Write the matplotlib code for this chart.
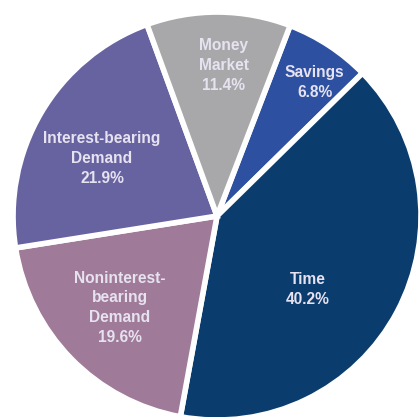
import numpy as np
import matplotlib
matplotlib.use("Agg")
import matplotlib.pyplot as plt

# Deposit mix, clockwise from the top
categories = ["Savings", "Time", "Noninterest-\nbearing\nDemand",
              "Interest-bearing\nDemand", "Money\nMarket"]
shares = [6.8, 40.2, 19.6, 21.9, 11.4]
colors = ["#2d51a0", "#0a3c6e", "#a07a99", "#6663a0", "#a8a8aa"]

# label placement inside each wedge: radial fraction and clockwise nudge (deg)
label_radius = [0.81, 0.57, 0.655, 0.63, 0.74]
label_nudge = [3, 11, 1, -4, 2]

fig = plt.figure(figsize=(4.2, 4.17), dpi=100)
ax = fig.add_axes([0, 0, 1, 1])

wedges, _ = ax.pie(shares, colors=colors, startangle=69, counterclock=False,
                   radius=1.0,
                   wedgeprops=dict(edgecolor="white", linewidth=4.0))

for w, cat, val, r, nud in zip(wedges, categories, shares, label_radius, label_nudge):
    mid = np.deg2rad((w.theta1 + w.theta2) / 2 - nud)
    x, y = r * np.cos(mid), r * np.sin(mid)
    ax.text(x, y, f"{cat}\n{val:.1f}%", ha="center", va="center",
            color="#e6e2f0", fontsize=11.2, fontweight="bold",
            family=["Liberation Sans", "DejaVu Sans"], linespacing=1.4)

ax.set_xlim(-1.064, 0.995)
ax.set_ylim(-0.985, 1.059)
ax.set_aspect("equal")
ax.axis("off")

fig.savefig("out.png", dpi=100, facecolor="white")
